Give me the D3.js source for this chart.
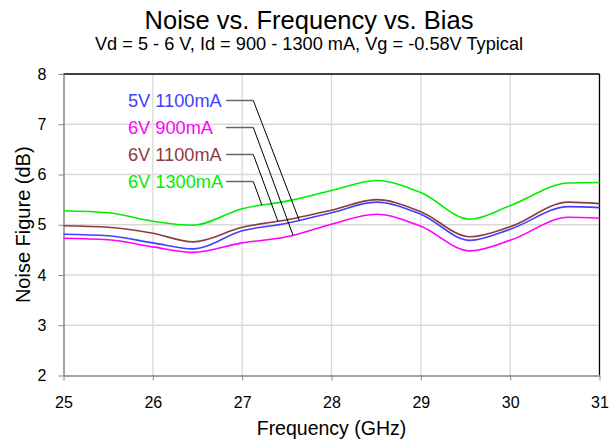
<!DOCTYPE html>
<html><head><meta charset="utf-8">
<script src="https://cdn.jsdelivr.net/npm/d3@7"></script>
<style>
body{margin:0;background:#fff;}
text{font-family:"Liberation Sans",Arial,sans-serif;}
</style></head>
<body><svg id="c" width="610" height="441"></svg>
<script>
const freqs = [25, 25.5, 26, 26.45, 27, 27.5, 28, 28.5, 29, 29.55, 30, 30.65, 31];
const nf5V1100 = [4.81, 4.78, 4.64, 4.52, 4.88, 5.03, 5.24, 5.45, 5.21, 4.69, 4.91, 5.36, 5.34];
const nf6V900  = [4.73, 4.70, 4.56, 4.45, 4.64, 4.76, 5.01, 5.21, 4.97, 4.48, 4.69, 5.15, 5.13];
const nf6V1100 = [4.98, 4.95, 4.83, 4.66, 4.95, 5.10, 5.29, 5.50, 5.26, 4.76, 4.96, 5.45, 5.42];
const nf6V1300 = [5.28, 5.24, 5.07, 4.99, 5.32, 5.47, 5.68, 5.88, 5.64, 5.11, 5.38, 5.83, 5.84];
const seriesNames = ["5V 1100mA", "6V 900mA", "6V 1100mA", "6V 1300mA"];
const labelFreqs = [27.64, 27.57, 27.40, 27.22];
const xTicks = [25, 26, 27, 28, 29, 30, 31];
const yTicks = [2, 3, 4, 5, 6, 7, 8];
const titleText = "Noise vs. Frequency vs. Bias";
const subtitleText = "Vd = 5 - 6 V, Id = 900 - 1300 mA, Vg = -0.58V Typical";
const xTitle = "Frequency (GHz)";
const yTitle = "Noise Figure (dB)";

const seriesValues = [nf5V1100, nf6V900, nf6V1100, nf6V1300];
const colors = ["#4040ff", "#ff00ff", "#8c3c3c", "#00ee00"];

const svg = d3.select("#c");
const L = 63.5, R = 599.5, T = 74, B = 375.5;
const x = d3.scaleLinear().domain([25, 31]).range([L, R]);
const y = d3.scaleLinear().domain([2, 8]).range([B, T]);

// grid
svg.append("g").selectAll("line").data(xTicks.slice(1, -1)).join("line")
  .attr("x1", d => x(d)).attr("x2", d => x(d)).attr("y1", T).attr("y2", B)
  .attr("stroke", "#d9d9d9").attr("stroke-width", 1.3);
svg.append("g").selectAll("line").data(yTicks.slice(1, -1)).join("line")
  .attr("y1", d => y(d)).attr("y2", d => y(d)).attr("x1", L).attr("x2", R)
  .attr("stroke", "#d9d9d9").attr("stroke-width", 1.3);

// frame top/right
svg.append("line").attr("x1", L).attr("x2", R).attr("y1", T).attr("y2", T).attr("stroke", "#000").attr("stroke-width", 1.3);
svg.append("line").attr("x1", R).attr("x2", R).attr("y1", T).attr("y2", B).attr("stroke", "#000").attr("stroke-width", 1.3);

// axes
const xAxis = svg.append("g").attr("transform", `translate(0,${B})`)
  .call(d3.axisBottom(x).tickValues(xTicks).tickFormat(d3.format("d")).tickSize(5).tickSizeOuter(0));
const yAxis = svg.append("g").attr("transform", `translate(${L},0)`)
  .call(d3.axisLeft(y).tickValues(yTicks).tickFormat(d3.format("d")).tickSize(5).tickSizeOuter(0));
[xAxis, yAxis].forEach(a => {
  a.select(".domain").attr("stroke", "#868686").attr("stroke-width", 1.5);
  a.selectAll(".tick line").attr("stroke", "#868686");
  a.selectAll(".tick text").attr("font-size", 16).attr("fill", "#000")
   .attr("font-family", "'Liberation Sans',Arial,sans-serif");
});
xAxis.selectAll(".tick text").attr("dy", "1.5em");
yAxis.selectAll(".tick text").attr("x", -17);

// lines
const line = d3.line().x((d, i) => x(freqs[i])).y(d => y(d)).curve(d3.curveMonotoneX);
const paths = seriesValues.map((vals, k) =>
  svg.append("path").datum(vals).attr("d", line).attr("fill", "none")
    .attr("stroke", colors[k]).attr("stroke-width", 1.6).node());

function pointAtX(node, px) {
  let lo = 0, hi = node.getTotalLength();
  for (let i = 0; i < 40; i++) {
    const mid = (lo + hi) / 2;
    if (node.getPointAtLength(mid).x < px) lo = mid; else hi = mid;
  }
  return node.getPointAtLength(lo);
}

// labels with leaders
const labX = 128, labBase = 107, labStep = 27, leadX0 = 226, leadX1 = 253.3;
seriesNames.forEach((name, k) => {
  const by = labBase + k * labStep;
  svg.append("text").attr("x", labX).attr("y", by).attr("font-size", 18.2)
    .attr("fill", colors[k]).text(name);
  const my = by - 6.5;
  const p = pointAtX(paths[k], x(labelFreqs[k]));
  svg.append("line").attr("x1", leadX0).attr("x2", leadX1).attr("y1", my).attr("y2", my)
    .attr("stroke", "#666").attr("stroke-width", 1.5);
  svg.append("line").attr("x1", leadX1).attr("x2", p.x).attr("y1", my).attr("y2", p.y)
    .attr("stroke", "#000").attr("stroke-width", 1);
});

// titles
svg.append("text").attr("x", 309).attr("y", 29).attr("text-anchor", "middle")
  .attr("font-size", 25.5).attr("fill", "#000").text(titleText);
svg.append("text").attr("x", 309).attr("y", 50).attr("text-anchor", "middle")
  .attr("font-size", 18.2).attr("fill", "#000").text(subtitleText);
svg.append("text").attr("x", (L + R) / 2).attr("y", 435).attr("text-anchor", "middle")
  .attr("font-size", 19.5).attr("fill", "#000").text(xTitle);
svg.append("text").attr("transform", `translate(30,${(T + B) / 2}) rotate(-90)`)
  .attr("text-anchor", "middle").attr("font-size", 20).attr("fill", "#000").text(yTitle);
</script></body></html>
